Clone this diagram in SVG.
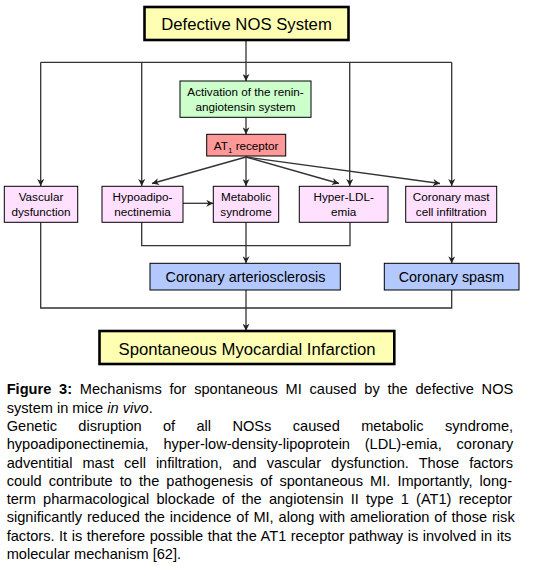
<svg xmlns="http://www.w3.org/2000/svg" width="535" height="566" viewBox="0 0 535 566">
<style>
text{font-family:"Liberation Sans",Arial,sans-serif;fill:#000}
.c{text-anchor:middle}
.big{font-size:16.7px}
.mid{font-size:14.4px}
.sm{font-size:11.7px}
.cap{font-size:14.6px}
.thick{stroke:#000;stroke-width:2.6}
.thin{stroke:#000;stroke-width:1}
.yel{fill:#ffffb3}
.grn{fill:#ccffcc}
.red{fill:#ff9999}
.pnk{fill:#ffe0ff}
.blu{fill:#b3c8ff}
.ln{fill:none;stroke:#333;stroke-width:1.3}
.ar{marker-end:url(#ah)}
</style>
<defs>
<marker id="ah" viewBox="0 0 10 10" refX="10" refY="5" markerWidth="7" markerHeight="7" markerUnits="userSpaceOnUse" orient="auto">
<path d="M0,0 L10,5 L0,10 L3,5 z" fill="#222"/>
</marker>
</defs>
<rect width="535" height="566" fill="#fff"/>

<g id="connectors">
<path class="ln ar" d="M246,40 V81"/>
<path class="ln" d="M40.7,62.3 H451.7"/>
<path class="ln ar" d="M40.7,62.3 V186"/>
<path class="ln ar" d="M141.7,62.3 V186"/>
<path class="ln ar" d="M349.7,62.3 V186"/>
<path class="ln ar" d="M451.7,62.3 V186"/>
<path class="ln ar" d="M246,117.3 V134.3"/>
<path class="ln ar" d="M246,157 L152,183.5"/>
<path class="ln ar" d="M246,157 V186"/>
<path class="ln ar" d="M246,157 L339,183.5"/>
<path class="ln ar" d="M246,157 L440,183.5"/>
<path class="ln ar" d="M183,203.3 H213.3"/>
<path class="ln" d="M141.7,222.3 V245.7 H350 V222.3"/>
<path class="ln ar" d="M246,222.3 V263.3"/>
<path class="ln ar" d="M451.7,222.3 V263.3"/>
<path class="ln" d="M40.7,222.3 V308 H451.7 V290"/>
<path class="ln ar" d="M246,290 V330.7"/>
</g>

<g id="defective-nos">
<rect class="yel thick" x="144.5" y="7" width="204" height="33"/>
<text class="c big" x="246.5" y="29.5">Defective NOS System</text>
</g>

<g id="ras">
<rect class="grn thin" x="180" y="81" width="131" height="36.3"/>
<text class="c sm" x="245.5" y="95.5">Activation of the renin-</text>
<text class="c sm" x="245.5" y="111">angiotensin system</text>
</g>

<g id="at1">
<rect class="red thin" x="206.7" y="134.3" width="79" height="21.7"/>
<text class="c sm" x="246.2" y="149.5">AT<tspan font-size="8" dy="3">1</tspan><tspan dy="-3"> receptor</tspan></text>
</g>

<g id="vascular">
<rect class="pnk thin" x="4.3" y="186.3" width="73.4" height="36"/>
<text class="c sm" x="41" y="200.5">Vascular</text>
<text class="c sm" x="41" y="216">dysfunction</text>
</g>

<g id="hypoadipo">
<rect class="pnk thin" x="102" y="186.3" width="81" height="36"/>
<text class="c sm" x="142.5" y="200.5">Hypoadipo-</text>
<text class="c sm" x="142.5" y="216">nectinemia</text>
</g>

<g id="metabolic">
<rect class="pnk thin" x="213.3" y="186.3" width="65.4" height="36"/>
<text class="c sm" x="246" y="200.5">Metabolic</text>
<text class="c sm" x="246" y="216">syndrome</text>
</g>

<g id="hyperldl">
<rect class="pnk thin" x="299.3" y="186.3" width="88.7" height="36"/>
<text class="c sm" x="343.7" y="200.5">Hyper-LDL-</text>
<text class="c sm" x="343.7" y="216">emia</text>
</g>

<g id="mast">
<rect class="pnk thin" x="405.7" y="186.3" width="91" height="36"/>
<text class="c sm" x="451.2" y="200.5">Coronary mast</text>
<text class="c sm" x="451.2" y="216">cell infiltration</text>
</g>

<g id="arteriosclerosis">
<rect class="blu thin" x="150" y="263.3" width="190.3" height="26.7"/>
<text class="c mid" x="245.5" y="282">Coronary arteriosclerosis</text>
</g>

<g id="spasm">
<rect class="blu thin" x="384.3" y="263.3" width="134.7" height="26.7"/>
<text class="c mid" x="451.5" y="281.5">Coronary spasm</text>
</g>

<g id="mi">
<rect class="yel thick" x="99.5" y="331" width="294.8" height="33"/>
<text class="c big" x="247" y="355">Spontaneous Myocardial Infarction</text>
</g>

<g id="caption" class="cap">
<text x="6.7" y="394.3" word-spacing="3.69"><tspan font-weight="bold">Figure 3:</tspan> Mechanisms for spontaneous MI caused by the defective NOS</text>
<text x="6.7" y="412.6">system in mice <tspan font-style="italic">in vivo</tspan>.</text>
<text x="6.7" y="430.9" word-spacing="17.3">Genetic disruption of all NOSs caused metabolic syndrome,</text>
<text x="6.7" y="449.2" word-spacing="10.7">hypoadiponectinemia, hyper-low-density-lipoprotein (LDL)-emia, coronary</text>
<text x="6.7" y="467.5" word-spacing="5.93">adventitial mast cell infiltration, and vascular dysfunction. Those factors</text>
<text x="6.7" y="485.8" word-spacing="3.0">could contribute to the pathogenesis of spontaneous MI. Importantly, long-</text>
<text x="6.7" y="504.1" word-spacing="3.12">term pharmacological blockade of the angiotensin II type 1 (AT1) receptor</text>
<text x="6.7" y="522.4" word-spacing="0.83">significantly reduced the incidence of MI, along with amelioration of those risk</text>
<text x="6.7" y="540.7" word-spacing="0.46">factors. It is therefore possible that the AT1 receptor pathway is involved in its</text>
<text x="6.7" y="559">molecular mechanism [62].</text>
</g>
</svg>
